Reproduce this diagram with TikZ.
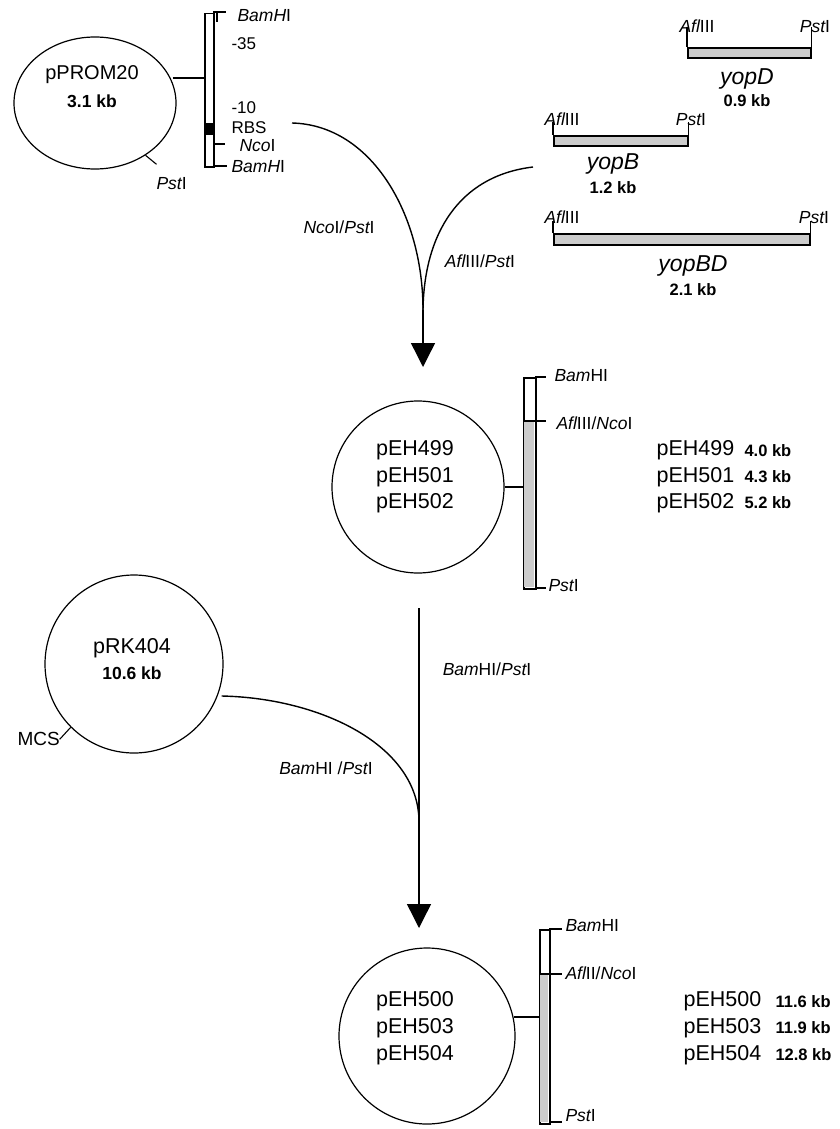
\documentclass[tikz,border=0pt]{standalone}
\usepackage{fontspec}
\setmainfont{Liberation Sans}
\usetikzlibrary{arrows.meta,shapes.geometric}
\begin{document}
\begin{tikzpicture}[x=1pt,y=-1pt,line width=1.1pt,
  big/.style={font=\fontsize{21.5}{24}\selectfont,inner sep=0pt},
  kbsize/.style={font=\fontsize{17.5}{20}\selectfont\bfseries,inner sep=0pt},
  small/.style={font=\fontsize{16.5}{19}\selectfont\bfseries,inner sep=0pt},
  site/.style={font=\fontsize{17.5}{20}\selectfont,inner sep=0pt,anchor=west},
  enz/.style={font=\fontsize{17.5}{20}\selectfont,inner sep=0pt},
  gene/.style={font=\fontsize{23}{26}\selectfont\itshape,inner sep=0pt},
  ring/.style={draw,line width=1.2pt,inner sep=0pt},
  barbox/.style={draw,line width=1.5pt,inner sep=0pt,anchor=north west,fill=white},
  frag/.style={draw,line width=1.8pt,fill=gray!40,inner sep=0pt,anchor=north west},
  curve/.style={line width=1.4pt},
  bigarrow/.style={line width=1.4pt,-{Triangle[width=24pt,length=24pt]}}
]
\useasboundingbox (0,0) rectangle (839,1129);

% ---------- pPROM20 ----------
\node[ring,ellipse,minimum width=162pt,minimum height=132pt] (prom) at (95,103) {};
\node[big,font=\fontsize{20}{24}\selectfont] (promname) at (92,75) {pPROM20};
\node[kbsize] (promkb) at (92,101) {3.1 kb};
\node[barbox,minimum width=9pt,minimum height=153pt] (bar1) at (204,13) {};
\fill (204,123) rectangle (213,135);
\draw (prom.east |- 0,78) ++(-4,0) coordinate (promc) -- (204,78);
\draw (213,12) -- (226,12) (217,12) -- (217,22);
\draw (213,144) -- (225,144);
\draw (213,166) -- (227,166);
\draw (prom.-46) -- ++(11,9);
\node[site] (s1) at (237,16) {\itshape BamH\upshape I};
\node[site,font=\fontsize{17}{20}\selectfont] (s2) at (231,44) {-35};
\node[site,font=\fontsize{17}{20}\selectfont] (s3) at (231,108) {-10};
\node[site,font=\fontsize{17}{20}\selectfont] (s4) at (231,128) {RBS};
\node[site] (s5) at (239,146) {\itshape Nco\upshape I};
\node[site] (s6) at (231,167) {\itshape BamH\upshape I};
\node[site] (s7) at (156,184) {\itshape Pst\upshape I};

% ---------- fragments ----------
\node[frag,minimum width=123pt,minimum height=10pt] (yopD) at (687,47) {};
\draw (yopD.north west) -- ++(0,-20) (yopD.north east) -- ++(0,-20);
\node[site,anchor=south] at (697,33) {\itshape Afl\upshape III};
\node[site,anchor=south] at (815,33) {\itshape Pst\upshape I};
\node[gene] at (747,79) {yopD};
\node[small] at (747,101) {0.9 kb};

\node[frag,minimum width=134pt,minimum height=10pt] (yopB) at (553,135) {};
\draw (yopB.north west) -- ++(0,-13) (yopB.north east) -- ++(0,-13);
\node[site,anchor=south] at (562,126) {\itshape Afl\upshape III};
\node[site,anchor=south] at (691,126) {\itshape Pst\upshape I};
\node[gene] at (613,164) {yopB};
\node[small] at (613,188) {1.2 kb};

\node[frag,minimum width=256pt,minimum height=11pt] (yopBD) at (553,233) {};
\draw (yopBD.north west) -- ++(0,-12) (yopBD.north east) -- ++(0,-12);
\node[site,anchor=south] at (562,224) {\itshape Afl\upshape III};
\node[site,anchor=south] at (814,224) {\itshape Pst\upshape I};
\node[gene] at (693,266) {yopBD};
\node[small] at (693,290) {2.1 kb};

% ---------- first ligation arrow ----------
\coordinate (rbsend) at (292,123);
\coordinate (yopend) at (533,167);
\coordinate (m1) at (423,310);
\coordinate (tip1) at (423,367);
\draw[curve] (rbsend) .. controls (372,125) and (423,215) .. (m1);
\draw[curve] (yopend) .. controls (458,176) and (424,235) .. (m1);
\draw[bigarrow] (m1) -- (tip1);
\node[enz] at (339,227) {\itshape Nco\upshape I/\itshape Pst\upshape I};
\node[enz] at (480,261) {\itshape Afl\upshape III/\itshape Pst\upshape I};

% ---------- pEH499 ----------
\node[ring,circle,minimum size=172pt] (p499) at (418,487) {};
\node[big] at (415,450) {pEH499};
\node[big] at (415,477) {pEH501};
\node[big] at (415,503) {pEH502};
\node[barbox,minimum width=12pt,minimum height=211pt] (bar2) at (523,377) {};
\fill[gray!40] (523.8,421) rectangle (534.2,587.2);
\draw[line width=1.5pt] (523,421) -- (535,421);
\draw (p499.east) -- (p499.east -| bar2.west);
\draw (535,377) -- (546,377) (535,421) -- (546,421) (535,588) -- (546,588);
\node[site] at (554,376) {\itshape Bam\upshape HI};
\node[site] at (556,423) {\itshape Afl\upshape III/\itshape Nco\upshape I};
\node[site] at (548,586) {\itshape Pst\upshape I};
\node[big,anchor=west] at (656,450) {pEH499};
\node[big,anchor=west] at (656,477) {pEH501};
\node[big,anchor=west] at (656,503) {pEH502};
\node[small,anchor=west] at (744,451) {4.0 kb};
\node[small,anchor=west] at (744,477) {4.3 kb};
\node[small,anchor=west] at (744,503) {5.2 kb};

% ---------- pRK404 ----------
\node[ring,circle,minimum size=178pt] (prk) at (134,664) {};
\node[big] at (132,648) {pRK404};
\node[kbsize] at (132,673) {10.6 kb};
\draw (prk.-135) -- ++(-11,12);
\node[big,font=\fontsize{19}{22}\selectfont,anchor=west] at (17,739) {MCS};

% ---------- second ligation arrow ----------
\coordinate (top2) at (419,608);
\coordinate (m2) at (419,822);
\coordinate (tip2) at (419,928);
\draw[curve] (prk.east |- 0,696) ++(-2,0) .. controls (320,698) and (419,745) .. (m2);
\draw[curve] (top2) -- (m2);
\draw[bigarrow] (m2) -- (tip2);
\node[enz] at (487,669) {\itshape Bam\upshape HI/\itshape Pst\upshape I};
\node[enz] at (326,768) {\itshape Bam\upshape HI /\itshape Pst\upshape I};

% ---------- pEH500 ----------
\node[ring,circle,minimum size=176pt] (p500) at (427,1036) {};
\node[big] at (415,1001) {pEH500};
\node[big] at (415,1028) {pEH503};
\node[big] at (415,1055) {pEH504};
\node[barbox,minimum width=10pt,minimum height=194pt] (bar3) at (539,929) {};
\fill[gray!40] (539.8,974) rectangle (548.2,1122.2);
\draw[line width=1.5pt] (539,974) -- (549,974);
\draw (p500.east |- 0,1017) ++(-2,0) -- (539,1017);
\draw (549,929) -- (562,929) (549,974) -- (562,974) (549,1122) -- (562,1122);
\node[site] at (565,926) {\itshape Bam\upshape HI};
\node[site] at (565,973) {\itshape Afl\upshape II/\itshape Nco\upshape I};
\node[site] at (565,1116) {\itshape Pst\upshape I};
\node[big,anchor=west] at (683,1001) {pEH500};
\node[big,anchor=west] at (683,1028) {pEH503};
\node[big,anchor=west] at (683,1055) {pEH504};
\node[small,anchor=west] at (775,1002) {11.6 kb};
\node[small,anchor=west] at (775,1028) {11.9 kb};
\node[small,anchor=west] at (775,1055) {12.8 kb};
\end{tikzpicture}
\end{document}
